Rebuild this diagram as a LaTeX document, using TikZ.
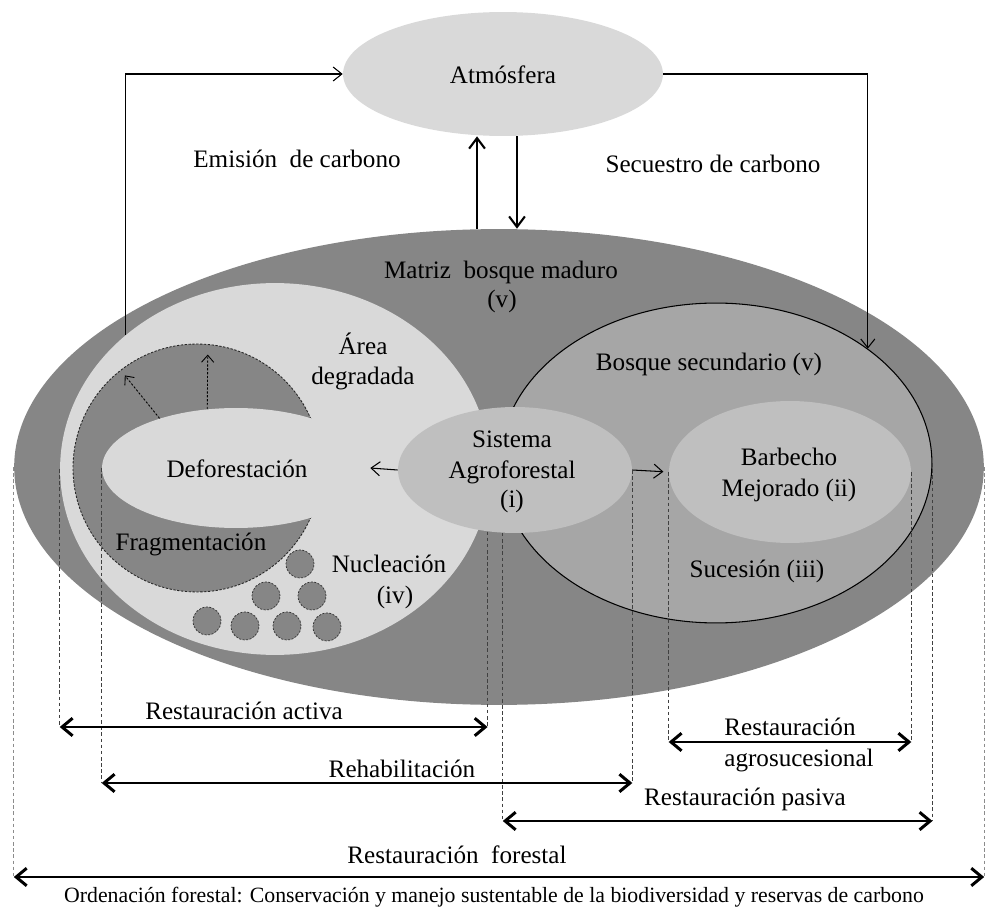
\documentclass[tikz,border=0pt]{standalone}
\usepackage{fontspec}
\setmainfont{Liberation Serif}
\usetikzlibrary{shapes.geometric,arrows.meta}
\definecolor{matriz}{HTML}{868686}
\definecolor{claro}{HTML}{D9D9D9}
\definecolor{medio}{HTML}{A6A6A6}
\definecolor{suave}{HTML}{BFBFBF}
\begin{document}
\begin{tikzpicture}[x=0.02cm,y=-0.02cm,
  ell/.style 2 args={ellipse,inner sep=0pt,minimum width={#1*0.04cm},minimum height={#2*0.04cm}},
  nucleo/.style={circle,inner sep=0pt,minimum size=0.56cm,fill=matriz,draw=black!80,line width=0.4pt,dash pattern=on 1.2pt off 0.8pt},
  lbl/.style={anchor=base,inner sep=0pt,font=\fontsize{14.3}{17}\selectfont},
  flujo/.style={line width=0.6pt,-{Straight Barb[length=5pt,width=8pt]}},
  vert/.style={line width=1.2pt,-{Straight Barb[length=6pt,width=9pt]}},
  rango/.style={line width=1.7pt,{Straight Barb[length=6pt,width=10pt]}-{Straight Barb[length=6pt,width=10pt]}},
  guia/.style={line width=0.5pt,draw=black!75,dash pattern=on 2pt off 1.5pt},
  punteo/.style={line width=0.5pt,dash pattern=on 1.3pt off 0.9pt,-{Straight Barb[length=4pt,width=7pt]}},
]
\useasboundingbox (0,0) rectangle (985,912);

% atmosphere
\node[ell={160}{62},fill=claro] (atm) at (503,74) {};
\node[lbl] (tatm) at (503,84) {Atmósfera};

% mature forest matrix and nested areas
\node[ell={485}{238},fill=matriz] (mat) at (499,467) {};
\node[ell={215}{186},fill=claro] (deg) at (275,469) {};
\node[circle,inner sep=0pt,minimum size=4.96cm,fill=matriz,draw=black!85,line width=0.5pt,dash pattern=on 1.3pt off 0.9pt] (frag) at (197,468) {};
\node[ell={134}{60},fill=claro] (def) at (236,468) {};

% nucleation patches
\node[nucleo] (n1) at (300,564) {};
\node[nucleo] (n2) at (266,596) {};
\node[nucleo] (n3) at (312,596) {};
\node[nucleo] (n4) at (207,621) {};
\node[nucleo] (n5) at (245,626) {};
\node[nucleo] (n6) at (287,626) {};
\node[nucleo] (n7) at (327,627) {};

\node[ell={216}{160},fill=medio,draw=black,line width=0.6pt] (sec) at (716,463) {};
\node[ell={121}{71},fill=suave] (bar) at (790,472) {};
\node[ell={117}{63},fill=suave] (sis) at (515,470) {};

% carbon flows
\draw[flujo] (deg.138.8) |- (atm.west);
\draw[flujo] (atm.east) -| (sec.37.1);
\coordinate (u1) at ([xshift=-0.52cm]atm.south);
\coordinate (d1) at ([xshift=0.28cm]atm.south);
\draw[vert] (u1 |- mat.north) -- (u1);
\draw[vert] (d1) -- (d1 |- mat.north);

% transitions
\draw[flujo] (sis.west) -- (def.east);
\draw[flujo,shorten >=3pt] (sis.east) -- (bar.west);
\draw[punteo,shorten >=4pt] (def.147.7) -- (frag.128.4);
\draw[punteo,shorten >=6pt] (def.116.6) -- (frag.85.4);

% labels
\node[lbl] (temi) at (297,168) {Emisión\ \ de carbono};
\node[lbl] (tsec) at (713,173) {Secuestro de carbono};
\node[lbl] (tmat) at (501,279) {Matriz\ \ bosque maduro};
\node[lbl] (tmatv) at (502,308) {(v)};
\node[lbl] (tdeg1) at (363,355) {Área};
\node[lbl] (tdeg2) at (363,385) {degradada};
\node[lbl] (tdef) at (237,478) {Deforestación};
\node[lbl] (tfrag) at (191,551) {Fragmentación};
\node[lbl] (tnuc1) at (389,573) {Nucleación};
\node[lbl] (tnuc2) at (395,603) {(iv)};
\node[lbl] (tsis1) at (512,448) {Sistema};
\node[lbl] (tsis2) at (512,479) {Agroforestal};
\node[lbl] (tsis3) at (512,508) {(i)};
\node[lbl] (tbsec) at (709,371) {Bosque secundario (v)};
\node[lbl] (tbar1) at (789,466) {Barbecho};
\node[lbl] (tbar2) at (789,497) {Mejorado\ (ii)};
\node[lbl] (tsuc) at (757,578) {Sucesión (iii)};

% ranges of the restoration strategies
\coordinate (raL) at (deg.west |- 0,727);
\coordinate (raR) at (sis.246 |- 0,727);
\coordinate (rhL) at (def.west |- 0,783);
\coordinate (rhR) at (sis.east |- 0,783);
\coordinate (agL) at (bar.west |- 0,742);
\coordinate (agR) at (bar.east |- 0,742);
\coordinate (paL) at (sis.259 |- 0,821);
\coordinate (paR) at (sec.east |- 0,821);
\coordinate (rfL) at (mat.west |- 0,877);
\coordinate (rfR) at (mat.east |- 0,877);

\draw[guia] (deg.west) -- (raL);
\draw[guia] (sis.246) -- (raR);
\draw[guia] (def.west) -- (rhL);
\draw[guia] (sis.east) -- (rhR);
\draw[guia] (bar.west) -- (agL);
\draw[guia] (bar.east) -- (agR);
\draw[guia] (sis.259) -- (paL);
\draw[guia] (sec.east) -- (paR);
\draw[guia,draw=black!45] (mat.west) -- (rfL);
\draw[guia,draw=black!45] (mat.east) -- (rfR);

\draw[rango] (raL) -- (raR);
\draw[rango] (rhL) -- (rhR);
\draw[rango] (agL) -- (agR);
\draw[rango] (paL) -- (paR);
\draw[rango] (rfL) -- (rfR);

\node[lbl] (tra) at (244,719) {Restauración activa};
\node[lbl] (trh) at (402,777) {Rehabilitación};
\node[lbl] (tag1) at (790,735) {Restauración};
\node[lbl] (tag2) at (799,766) {agrosucesional};
\node[lbl] (tpa) at (745,805) {Restauración pasiva};
\node[lbl] (trf) at (457,863) {Restauración\ \ forestal};
\node[anchor=base,inner sep=0pt,font=\fontsize{12.4}{15}\selectfont] (tord) at (494,902) {Ordenación forestal: Conservación y manejo sustentable de la biodiversidad y reservas de carbono};
\end{tikzpicture}
\end{document}
